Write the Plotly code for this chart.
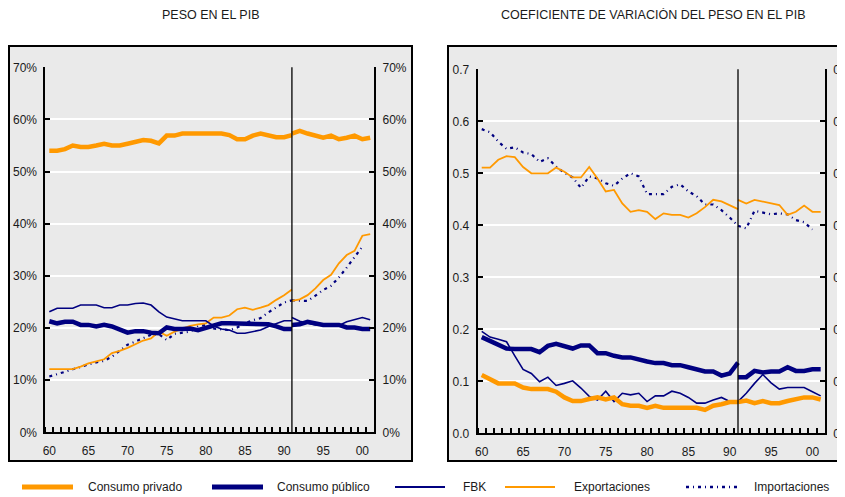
import plotly.graph_objects as go

# ---------------- data ----------------
years_a = list(range(1960, 1992))   # 1960-1991 (first segment)
years_b = list(range(1991, 2002))   # 1991-2001 (second segment)

tick_years = [1960, 1965, 1970, 1975, 1980, 1985, 1990, 1995, 2000]
tick_labels = ["60", "65", "70", "75", "80", "85", "90", "95", "00"]
break_year = 1991

series_names = ["Consumo privado", "Consumo público", "FBK", "Exportaciones", "Importaciones"]

# Peso en el PIB (%)
cp_a = [54.0, 54.0, 54.3, 55.0, 54.7, 54.7, 55.0, 55.35, 55.0, 55.0,
        55.35, 55.7, 56.05, 55.9, 55.4, 56.9, 56.9, 57.3, 57.3, 57.3,
        57.3, 57.3, 57.3, 57.0, 56.2, 56.2, 56.9, 57.3, 56.9, 56.6,
        56.6, 57.0]
cp_b = [57.3, 57.8, 57.3, 56.9, 56.5, 56.9, 56.2, 56.5, 56.9, 56.2, 56.5]

cpub_a = [21.3, 20.9, 21.2, 21.2, 20.6, 20.6, 20.3, 20.6, 20.3, 19.6,
          19.1, 19.4, 19.4, 19.1, 19.0, 20.1, 19.8, 19.8, 19.9, 19.6,
          20.1, 20.4, 20.9, 20.9, 20.9, 20.9, 20.9, 20.9, 20.7, 20.3,
          19.8, 19.8]
cpub_b = [20.6, 20.7, 21.2, 20.9, 20.6, 20.6, 20.6, 20.1, 20.1, 19.8, 19.8]

fbk_a = [23.1, 23.8, 23.8, 23.8, 24.4, 24.4, 24.4, 23.9, 23.9, 24.4,
         24.4, 24.7, 24.8, 24.4, 23.1, 22.1, 21.7, 21.4, 21.4, 21.4,
         21.4, 20.4, 19.8, 19.6, 19.0, 19.0, 19.3, 19.6, 20.3, 20.9,
         21.4, 21.4]
fbk_b = [22.0, 21.3, 20.9, 20.6, 20.5, 20.5, 20.5, 21.2, 21.6, 22.0, 21.6]

exp_a = [12.1, 12.1, 12.1, 12.1, 12.6, 13.2, 13.6, 14.0, 15.2, 15.6,
         16.2, 16.9, 17.6, 18.0, 19.3, 18.5, 19.3, 19.9, 20.4, 20.7,
         20.9, 22.0, 22.0, 22.4, 23.6, 23.9, 23.5, 23.9, 24.4, 25.4,
         26.3, 27.4]
exp_b = [25.2, 25.5, 26.3, 27.6, 29.2, 30.2, 32.4, 34.0, 34.8, 37.7, 38.0]

imp_a = [10.7, 11.1, 11.6, 12.1, 12.6, 13.0, 13.4, 13.7, 14.5, 15.6,
         16.8, 17.4, 18.0, 18.7, 18.8, 17.7, 18.9, 19.1, 19.3, 20.3,
         20.6, 19.9, 19.8, 19.6, 20.1, 20.9, 21.5, 21.9, 23.0, 23.9,
         24.9, 25.3]
imp_b = [25.3, 25.3, 25.2, 26.2, 27.3, 28.1, 29.7, 31.6, 33.5, 35.6, None]

# Coeficiente de variación del peso en el PIB
cp_cv_a = [0.112, 0.104, 0.096, 0.096, 0.096, 0.088, 0.085, 0.085, 0.085, 0.080,
           0.069, 0.062, 0.062, 0.066, 0.069, 0.065, 0.069, 0.056, 0.053, 0.053,
           0.049, 0.053, 0.049, 0.049, 0.049, 0.049, 0.049, 0.045, 0.053, 0.056,
           0.060, 0.060]
cp_cv_b = [0.060, 0.063, 0.058, 0.062, 0.058, 0.058, 0.062, 0.065, 0.069, 0.069, 0.065]

cpub_cv_a = [0.185, 0.178, 0.169, 0.163, 0.162, 0.162, 0.162, 0.156, 0.168, 0.172,
             0.168, 0.163, 0.169, 0.169, 0.154, 0.154, 0.149, 0.146, 0.146, 0.141,
             0.138, 0.135, 0.135, 0.131, 0.131, 0.127, 0.123, 0.119, 0.119, 0.111,
             0.115, 0.136]
cpub_cv_b = [0.108, 0.108, 0.120, 0.117, 0.119, 0.119, 0.127, 0.120, 0.120, 0.123, 0.123]

fbk_cv_a = [0.196, 0.185, 0.181, 0.176, 0.149, 0.123, 0.115, 0.099, 0.108, 0.092,
            0.096, 0.101, 0.087, 0.071, 0.064, 0.081, 0.061, 0.077, 0.074, 0.077,
            0.061, 0.072, 0.072, 0.081, 0.077, 0.069, 0.058, 0.058, 0.064, 0.069,
            0.061, 0.058]
fbk_cv_b = [0.061, 0.077, 0.096, 0.113, 0.097, 0.085, 0.088, 0.088, 0.088, 0.080, 0.072]

exp_cv_a = [0.511, 0.511, 0.526, 0.533, 0.531, 0.512, 0.500, 0.500, 0.500, 0.511,
            0.503, 0.492, 0.492, 0.512, 0.490, 0.465, 0.468, 0.442, 0.426, 0.429,
            0.426, 0.412, 0.423, 0.420, 0.420, 0.415, 0.423, 0.435, 0.449, 0.446,
            0.439, 0.431]
exp_cv_b = [0.449, 0.442, 0.449, 0.446, 0.442, 0.439, 0.420, 0.426, 0.438, 0.426, 0.426]

imp_cv_a = [0.585, 0.579, 0.561, 0.547, 0.550, 0.540, 0.537, 0.522, 0.529, 0.513,
            0.501, 0.492, 0.472, 0.494, 0.490, 0.481, 0.476, 0.490, 0.500, 0.494,
            0.460, 0.460, 0.460, 0.474, 0.479, 0.465, 0.456, 0.440, 0.440, 0.429,
            0.415, 0.399]
imp_cv_b = [0.399, 0.394, 0.428, 0.424, 0.421, 0.423, 0.421, 0.410, 0.406, 0.392, None]

# ---------------- styles ----------------
ORANGE = "#FF9900"
NAVY = "#000080"
BG = "#EAEAEA"
FONT = "Liberation Sans, Arial, sans-serif"
TXT = "#1a1a1a"

styles = [
    dict(color=ORANGE, width=4.5),
    dict(color=NAVY, width=4.5),
    dict(color=NAVY, width=1.6),
    dict(color=ORANGE, width=1.8),
    dict(color=NAVY, width=2.2, dash="3px,4px,1px,4px"),
]

left_sets = [(cp_a, cp_b), (cpub_a, cpub_b), (fbk_a, fbk_b), (exp_a, exp_b), (imp_a, imp_b)]
right_sets = [(cp_cv_a, cp_cv_b), (cpub_cv_a, cpub_cv_b), (fbk_cv_a, fbk_cv_b),
              (exp_cv_a, exp_cv_b), (imp_cv_a, imp_cv_b)]

fig = go.Figure()

order = [4, 3, 2, 1, 0]
for i in order:
    for xs, ys, xa, ya in ((years_a, left_sets[i][0], "x", "y"), (years_b, left_sets[i][1], "x", "y"),
                           (years_a, right_sets[i][0], "x2", "y2"), (years_b, right_sets[i][1], "x2", "y2")):
        fig.add_trace(go.Scatter(x=xs, y=ys, mode="lines", line=styles[i], name=series_names[i],
                                 xaxis=xa, yaxis=ya, showlegend=False,
                                 connectgaps=False, hoverinfo="skip"))

# dummy traces to activate the right-side axes
fig.add_trace(go.Scatter(x=[None], y=[None], xaxis="x", yaxis="y3", showlegend=False, hoverinfo="skip"))
fig.add_trace(go.Scatter(x=[None], y=[None], xaxis="x2", yaxis="y4", showlegend=False, hoverinfo="skip"))

# the page body has an 8px margin: figure is sized/offset to compensate
OFF = 8
W, H = 845 - OFF, 497 - OFF
def px(v):
    return (v - OFF) / W
def py(v):
    return 1 - (v - OFF) / H

minor_vals = [y + 0.5 for y in range(1959, 2001)]

xcommon = dict(range=[1959.5, 2001.5], tickmode="array", tickvals=tick_years, ticktext=tick_labels,
               ticks="", showgrid=False, zeroline=False, showline=True, linecolor="black",
               linewidth=2, ticklabelstandoff=6, automargin=False,
               tickfont=dict(family=FONT, size=12, color=TXT),
               minor=dict(tickmode="array", tickvals=minor_vals, ticks="inside", ticklen=5,
                          tickwidth=1.5, tickcolor="black", showgrid=False))
ycommon = dict(showgrid=True, gridcolor="white", gridwidth=1.6, zeroline=False, showline=True,
               linecolor="black", linewidth=2, ticks="inside", ticklen=5, tickwidth=1.5,
               tickcolor="black", automargin=False, ticklabelstandoff=4,
               tickfont=dict(family=FONT, size=12, color=TXT))

fig.update_layout(
    width=W, height=H,
    margin=dict(l=0, r=0, t=0, b=0, autoexpand=False),
    paper_bgcolor="white",
    plot_bgcolor=BG,
    font=dict(family=FONT, size=12, color=TXT),
    xaxis=dict(domain=[px(45.4), px(374.1)], anchor="y", **xcommon),
    yaxis=dict(domain=[py(432.3), py(67.3)], anchor="x", range=[0, 70], dtick=10,
               ticksuffix="%", **ycommon),
    yaxis3=dict(overlaying="y", side="right", anchor="x", range=[0, 70], dtick=10,
                ticksuffix="%", **{**ycommon, "showgrid": False}),
    xaxis2=dict(domain=[px(477.6), px(824.8)], anchor="y2", **xcommon),
    yaxis2=dict(domain=[py(433.3), py(69.3)], anchor="x2", range=[0, 0.7], dtick=0.1,
                tickformat=".1f", **ycommon),
    yaxis4=dict(overlaying="y2", side="right", anchor="x2", range=[0, 0.7], dtick=0.1,
                tickformat=".1f", **{**ycommon, "showgrid": False}),
    showlegend=False,
)

shapes = [
    dict(type="rect", xref="paper", yref="paper", x0=px(9), x1=px(412), y0=py(461), y1=py(46),
         fillcolor=BG, line=dict(color="black", width=2), layer="below"),
    dict(type="rect", xref="paper", yref="paper", x0=px(448), x1=1.05, y0=py(461), y1=py(46),
         fillcolor=BG, line=dict(color="black", width=2), layer="below"),
    dict(type="line", xref="x", yref="y domain", x0=break_year, x1=break_year, y0=0, y1=1,
         line=dict(color="black", width=1.3)),
    dict(type="line", xref="x2", yref="y2 domain", x0=break_year, x1=break_year, y0=0, y1=1,
         line=dict(color="black", width=1.3)),
]

# manual legend (line samples + labels)
legend_sample_x = [(22, 73), (212, 263), (395, 445), (505, 555), (686, 738)]
legend_text_x = [86, 275, 461, 572, 752]
LEG_Y = 487
for i, name in enumerate(series_names):
    x0, x1 = legend_sample_x[i]
    st = styles[i]
    shapes.append(dict(type="line", xref="paper", yref="paper", x0=px(x0), x1=px(x1),
                       y0=py(LEG_Y), y1=py(LEG_Y),
                       line=dict(color=st["color"], width=st["width"] + (0.6 if st["width"] > 4 else 0.3),
                                 dash=st.get("dash", "solid"))))
    fig.add_annotation(text=name, xref="paper", yref="paper", x=px(legend_text_x[i]), y=py(LEG_Y),
                       xanchor="left", yanchor="middle", showarrow=False,
                       font=dict(family=FONT, size=12, color=TXT))

fig.update_layout(shapes=shapes)

fig.add_annotation(text="PESO EN EL PIB", xref="paper", yref="paper", x=px(211), y=py(15),
                   xanchor="center", yanchor="middle", showarrow=False,
                   font=dict(family=FONT, size=12.5, color=TXT))
fig.add_annotation(text="COEFICIENTE DE VARIACIÓN DEL PESO EN EL PIB", xref="paper", yref="paper",
                   x=px(653), y=py(15), xanchor="center", yanchor="middle", showarrow=False,
                   font=dict(family=FONT, size=12.5, color=TXT))

fig.write_html("out.html")
